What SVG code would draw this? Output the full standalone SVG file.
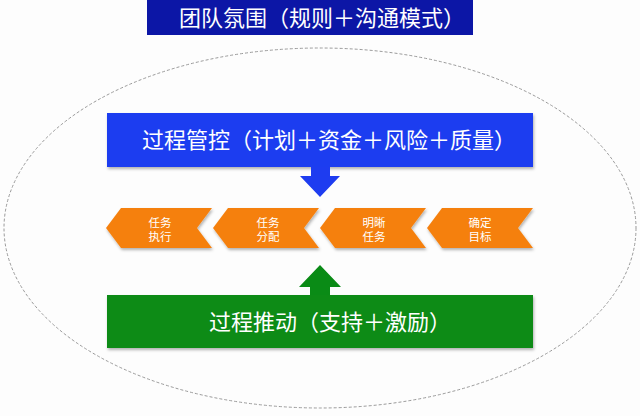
<svg xmlns="http://www.w3.org/2000/svg" width="640" height="416" viewBox="0 0 640 416">
<style>
.t{font-family:"Noto Sans CJK SC","Noto Sans",sans-serif;fill:#fff}
.big{font-size:22px}
.small{font-size:11.5px;text-anchor:middle}
.chev{fill:#F5800F;filter:url(#sh)}
</style>
<defs>
<filter id="sh" x="-10%" y="-20%" width="120%" height="150%">
<feDropShadow dx="1" dy="2" stdDeviation="1.5" flood-color="#000" flood-opacity="0.3"/>
</filter>
</defs>
<rect width="640" height="416" fill="#fdfdfd"/>
<ellipse id="boundary" cx="320" cy="228" rx="316" ry="180" fill="none" stroke="#9a9a9a" stroke-width="1" stroke-dasharray="3 2"/>
<g id="title">
<rect x="147" y="0" width="326" height="35" fill="#0C16A6"/>
<text class="t big" x="179" y="26">团队氛围（规则＋沟通模式）</text>
</g>
<g id="control">
<rect x="107" y="113" width="426" height="54" fill="#1E3CF0" filter="url(#sh)"/>
<text class="t big" x="142" y="148">过程管控（计划＋资金＋风险＋质量）</text>
</g>
<g id="drive">
<rect x="107" y="295" width="426" height="53" fill="#0A8B16" filter="url(#sh)"/>
<text class="t big" x="209" y="330">过程推动（支持＋激励）</text>
</g>
<g id="connectors">
<polygon points="311,167 330,167 330,176 340,176 320,197 300,176 311,176" fill="#1E3CF0"/>
<polygon points="310,295 330,295 330,287 341,287 320,265 299,287 310,287" fill="#0A8B16"/>
</g>
<g id="step1">
<polygon class="chev" points="106,228 121,208 212,208 197,228 212,248 121,248"/>
<text class="t small" x="160" y="226.5">任务</text>
<text class="t small" x="160" y="241">执行</text>
</g>
<g id="step2">
<polygon class="chev" points="213,228 228,208 319,208 304,228 319,248 228,248"/>
<text class="t small" x="268" y="226.5">任务</text>
<text class="t small" x="268" y="241">分配</text>
</g>
<g id="step3">
<polygon class="chev" points="320,228 335,208 426,208 411,228 426,248 335,248"/>
<text class="t small" x="374" y="226.5">明晰</text>
<text class="t small" x="374" y="241">任务</text>
</g>
<g id="step4">
<polygon class="chev" points="427,228 442,208 533,208 518,228 533,248 442,248"/>
<text class="t small" x="480" y="226.5">确定</text>
<text class="t small" x="480" y="241">目标</text>
</g>
</svg>
